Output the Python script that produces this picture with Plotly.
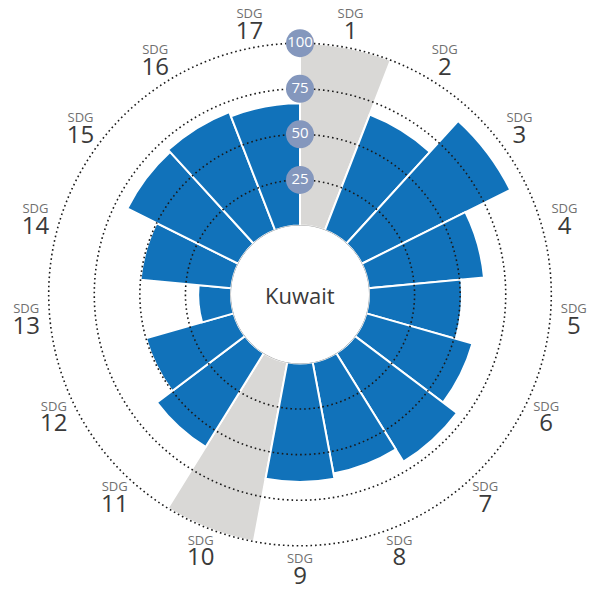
import numpy as np
import plotly.graph_objects as go

# ---- data ----
goals = [f"SDG {i}" for i in range(1, 18)]
goal_numbers = [str(i) for i in range(1, 18)]
scores = [None, 68, 91, 63.5, 51, 60.5, 70, 62, 65, None, 60.5, 50, 18, 50, 68, 69.5, 67]
missing = [100 if s is None else None for s in scores]
grid_values = [25, 50, 75, 100]
grid_labels = ["25", "50", "75", "100"]
country = "Kuwait"

n = len(goals)
step = 360 / n
thetas = [(i + 0.5) * step for i in range(n)]

BLUE = "#1172BA"
GREY = "#D9D8D6"
BADGE = "#8497BD"
FONT = "Open Sans, Noto Sans, sans-serif"

fig = go.Figure()

fig.add_trace(go.Barpolar(
    r=missing, theta=thetas, width=[step] * n,
    marker=dict(color=GREY, line=dict(color="white", width=2)),
    hoverinfo="skip", showlegend=False,
))
fig.add_trace(go.Barpolar(
    r=scores, theta=thetas, width=[step] * n,
    marker=dict(color=BLUE, line=dict(color="white", width=2)),
    showlegend=False,
))

# hole outline
circ = np.linspace(0, 360, 721)
fig.add_trace(go.Scatterpolar(
    r=[0] * len(circ), theta=circ, mode="lines",
    line=dict(color="#9a9a9a", width=1), hoverinfo="skip", showlegend=False,
))

# dotted grid circles above bars
for gv in grid_values:
    fig.add_trace(go.Scatterpolar(
        r=[gv] * len(circ), theta=circ, mode="lines",
        line=dict(color="#1a1a1a", width=1.6, dash="1.6px,3px"),
        hoverinfo="skip", showlegend=False,
    ))

# badges
fig.add_trace(go.Scatterpolar(
    r=grid_values, theta=[0] * len(grid_values), mode="markers+text",
    text=grid_labels, textposition="middle center",
    textfont=dict(color="white", size=15, family=FONT),
    marker=dict(color=BADGE, size=28, line=dict(width=0)),
    hoverinfo="skip", showlegend=False, cliponaxis=False,
))

# goal labels
label_text = [
    f"<span style='font-size:13px;color:#707070'>SDG</span><br>"
    f"<span style='font-size:24px;color:#3a3a3a'>{num}</span>"
    for num in goal_numbers
]
fig.add_trace(go.Scatterpolar(
    r=[113] * n, theta=thetas, mode="text",
    text=label_text, textposition="middle center",
    textfont=dict(size=16, family=FONT, color="#3a3a3a"),
    hoverinfo="skip", showlegend=False, cliponaxis=False,
))

# page body has an 8px margin; the figure is sized to fit the window
OFF = 8
W, H = 598 - OFF, 590 - OFF
R_out = 115
k = 1.823
r0 = 69.0
R_px = r0 + R_out * k
hole = r0 / R_px
cx, cy = 300 - OFF, 294.5 - OFF

fig.update_layout(
    width=W, height=H,
    margin=dict(l=0, r=0, t=0, b=0),
    paper_bgcolor="white",
    font=dict(family=FONT),
    polar=dict(
        domain=dict(x=[(cx - R_px) / W, (cx + R_px) / W],
                    y=[(H - cy - R_px) / H, (H - cy + R_px) / H]),
        hole=hole,
        bgcolor="white",
        bargap=0,
        radialaxis=dict(range=[0, R_out], visible=False, showgrid=False),
        angularaxis=dict(rotation=90, direction="clockwise", showgrid=False,
                         showline=False, showticklabels=False, ticks=""),
    ),
    annotations=[dict(
        text=country, x=cx / W, y=1 - cy / H, xref="paper", yref="paper",
        showarrow=False, font=dict(size=22, color="#3a3a3a", family=FONT),
    )],
)

fig.write_html("out.html")
